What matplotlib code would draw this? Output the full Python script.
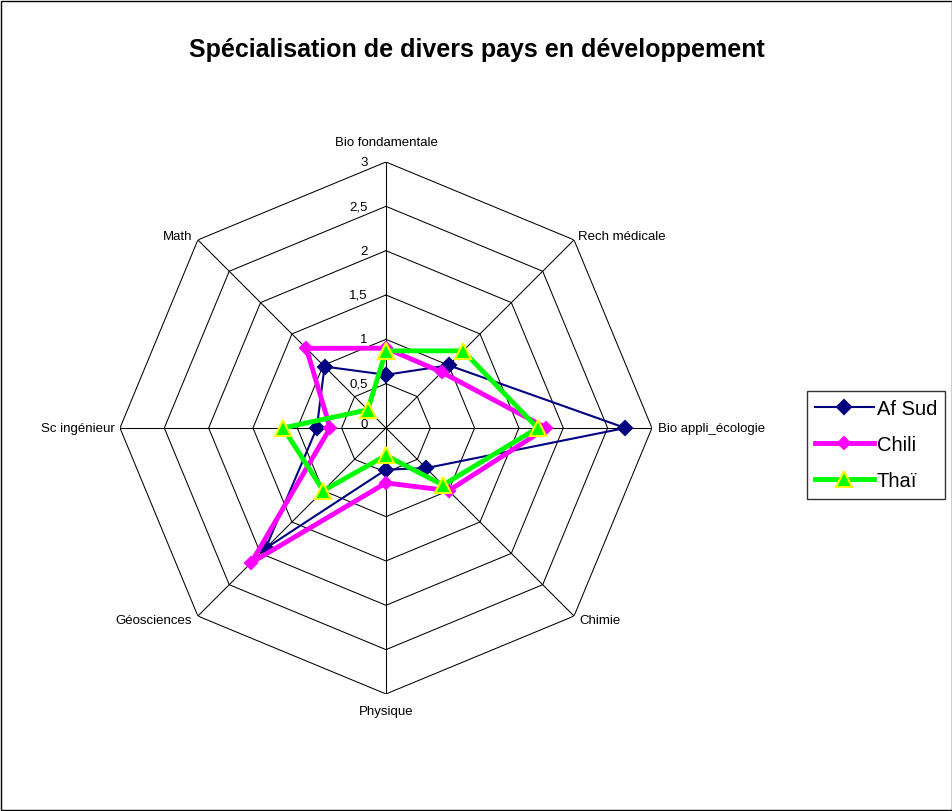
"""
Radar chart: specialisation of several developing countries.
"""

import matplotlib.pyplot as plt
import numpy as np
from matplotlib.patches import Rectangle


CATEGORIES = [
    "Bio fondamentale",
    "Rech médicale",
    "Bio appli_écologie",
    "Chimie",
    "Physique",
    "Géosciences",
    "Sc ingénieur",
    "Math",
]

AF_SUD = [0.6, 1.0, 2.7, 0.64, 0.47, 1.92, 0.78, 0.98]
CHILI = [0.9, 0.89, 1.81, 1.0, 0.62, 2.15, 0.63, 1.27]
THAI = [0.87, 1.23, 1.71, 0.91, 0.31, 1.0, 1.16, 0.29]

RADIAL_TICKS = [0, 0.5, 1, 1.5, 2, 2.5, 3]
RADIAL_LABELS = ["0", "0,5", "1", "1,5", "2", "2,5", "3"]

SERIES = [
    ("Af Sud", AF_SUD, "#000080", 1.5, "D", 7, "#000080", "#000080"),
    ("Chili", CHILI, "#FF00FF", 3.5, "D", 6, "#FF00FF", "#FF00FF"),
    ("Thaï", THAI, "#00FF00", 3.5, "^", 12, "#00FF00", "#FFFF00"),
]

plt.rcParams["font.family"] = ["Liberation Sans", "DejaVu Sans"]

fig = plt.figure(figsize=(9.53, 8.12), dpi=100)

fig.patches.append(
    Rectangle(
        (0.001, 0.001),
        0.998,
        0.997,
        transform=fig.transFigure,
        fill=False,
        edgecolor="black",
        linewidth=1,
    )
)

ax = fig.add_axes(
    [0.1259, 0.1441, 0.5582, 0.6552],
    polar=True,
)

ax.set_theta_offset(np.pi / 2)
ax.set_theta_direction(-1)
ax.set_ylim(0, 3)
ax.grid(False)
ax.spines["polar"].set_visible(False)
ax.set_xticks([])
ax.set_yticks([])

angles = np.linspace(0, 2 * np.pi, len(CATEGORIES), endpoint=False)
closed = np.concatenate([angles, angles[:1]])

# octagon grid
for level in RADIAL_TICKS[1:]:
    ax.plot(
        closed,
        [level] * len(closed),
        color="black",
        linewidth=0.75,
        zorder=1,
    )

for angle in angles:
    ax.plot(
        [angle, angle],
        [0, 3],
        color="black",
        linewidth=0.75,
        zorder=1,
    )

# radial tick labels
for value, label in zip(RADIAL_TICKS, RADIAL_LABELS):
    ax.annotate(
        label,
        xy=(0, value),
        xytext=(-13, 3 if value == 0 else 0),
        textcoords="offset points",
        ha="right",
        va="center",
        fontsize=9.5,
    )

# category labels
label_style = {
    "Bio fondamentale": ("center", "bottom", (0, 10)),
    "Rech médicale": ("left", "center", (3, 3)),
    "Bio appli_écologie": ("left", "center", (4, 0)),
    "Chimie": ("left", "center", (4, -3)),
    "Physique": ("center", "top", (0, -8)),
    "Géosciences": ("right", "center", (-4, -3)),
    "Sc ingénieur": ("right", "center", (-4, 0)),
    "Math": ("right", "center", (-4, 3)),
}

for angle, name in zip(angles, CATEGORIES):
    ha, va, offset = label_style[name]
    ax.annotate(
        name,
        xy=(angle, 3),
        xytext=offset,
        textcoords="offset points",
        ha=ha,
        va=va,
        fontsize=9.5,
    )

handles = []

for name, values, color, lw, marker, ms, face, edge in SERIES:
    vals = list(values) + values[:1]
    (line,) = ax.plot(
        closed,
        vals,
        color=color,
        linewidth=lw,
        marker=marker,
        markersize=ms,
        markerfacecolor=face,
        markeredgecolor=edge,
        markeredgewidth=1.5,
        label=name,
        zorder=3,
        clip_on=False,
    )
    handles.append(line)

fig.text(
    0.5,
    0.938,
    "Spécialisation de divers pays en développement",
    ha="center",
    va="center",
    fontsize=18,
    fontweight="bold",
)

legend = fig.legend(
    handles=handles,
    loc="upper left",
    bbox_to_anchor=(0.847, 0.517),
    borderaxespad=0,
    fontsize=14.5,
    frameon=True,
    fancybox=False,
    edgecolor="black",
    handlelength=2.9,
    borderpad=0.4,
    labelspacing=0.85,
    handletextpad=0.15,
)
legend.get_frame().set_linewidth(1)

fig.savefig("out.png", dpi=100)
